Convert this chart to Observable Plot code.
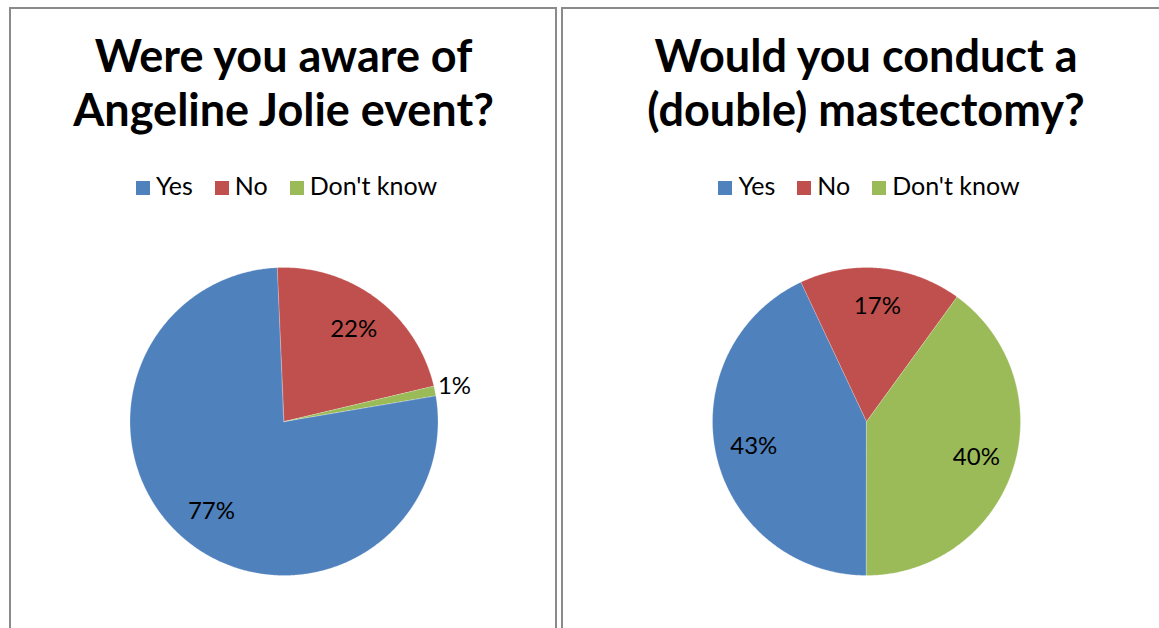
<!DOCTYPE html>
<html>
<head>
<meta charset="utf-8">
<script src="https://cdn.jsdelivr.net/npm/d3@7"></script>
<script src="https://cdn.jsdelivr.net/npm/@observablehq/plot@0.6"></script>
<style>
  html, body { margin: 0; padding: 0; background: #fff; }
  body { width: 1159px; height: 628px; overflow: hidden; position: relative; font-family: Lato, "Open Sans", sans-serif; color: #000; }
  .panel { position: absolute; top: 7px; height: 640px; border: 2px solid #8a8a8a; border-bottom: none; box-sizing: border-box; background: #fff; overflow: hidden; }
  .title { position: absolute; top: 19px; text-align: center; font-weight: 700; font-size: 45px; line-height: 54px; }
  .legend { position: absolute; top: 161px; display: flex; justify-content: center; font-size: 25px; line-height: 30px; white-space: nowrap; }
  .item { margin: 0 11px; }
  .sw { display: inline-block; width: 14px; height: 14px; margin-right: 6px; vertical-align: baseline; }
  .pie { position: absolute; left: 0; top: 240px; }
</style>
</head>
<body>
<script>
// ---- data ----
const categories = ["Yes", "No", "Don't know"];
const colors = ["#4F81BD", "#C0504D", "#9BBB59"];
const awareValues = [77, 22, 1];
const mastectomyValues = [43, 17, 40];
const awareTitle = ["Were you aware of", "Angeline Jolie event?"];
const mastectomyTitle = ["Would you conduct a", "(double) mastectomy?"];

// ---- layout / style ----
const R = 154;            // pie radius in px
const SVG_H = 360;
const CY = 172;           // pie centre within svg

const panels = [
  {left: 9, width: 548, centre: 283.5, title: awareTitle, values: awareValues, start: 80.3},
  {left: 561, width: 620, centre: 866, title: mastectomyTitle, values: mastectomyValues, start: 180}
];

function drawPanel(p) {
  const panel = document.createElement("div");
  panel.className = "panel";
  panel.style.left = p.left + "px";
  panel.style.width = p.width + "px";
  document.body.appendChild(panel);

  const W = p.width - 4;
  const cx = p.centre - (p.left + 2);

  const title = document.createElement("div");
  title.className = "title";
  title.style.left = "0px";
  title.style.width = (2 * cx) + "px";
  title.innerHTML = p.title.map(t => `<div>${t}</div>`).join("");
  panel.appendChild(title);

  const legend = document.createElement("div");
  legend.className = "legend";
  legend.style.left = "0px";
  legend.style.width = (2 * cx + 6) + "px";
  categories.forEach((c, i) => {
    const it = document.createElement("span");
    it.className = "item";
    it.innerHTML = `<span class="sw" style="background:${colors[i]}"></span>${c}`;
    legend.appendChild(it);
  });
  panel.appendChild(legend);

  // pie slices as polygons built from the data
  const rows = categories.map((c, i) => ({cat: c, value: p.values[i]}));
  const a0 = p.start * Math.PI / 180;
  const arcs = d3.pie().sort(null).value(d => d.value).startAngle(a0).endAngle(a0 + 2 * Math.PI)(rows);
  const pts = [];
  const labels = [];
  const total = d3.sum(p.values);
  arcs.forEach(a => {
    pts.push({cat: a.data.cat, x: 0, y: 0});
    const n = Math.max(2, Math.ceil((a.endAngle - a.startAngle) / (Math.PI / 360)));
    for (let k = 0; k <= n; k++) {
      const t = a.startAngle + (a.endAngle - a.startAngle) * k / n;
      pts.push({cat: a.data.cat, x: Math.sin(t), y: Math.cos(t)});
    }
    const mid = (a.startAngle + a.endAngle) / 2;
    const share = a.data.value / total;
    const rr = share < 0.05 ? 1.13 : 0.75;
    labels.push({x: rr * Math.sin(mid), y: rr * Math.cos(mid), text: Math.round(share * 100) + "%"});
  });

  const chart = Plot.plot({
    width: W,
    height: SVG_H,
    margin: 0,
    x: {type: "linear", domain: [-cx / R, (W - cx) / R], axis: null},
    y: {type: "linear", domain: [-(SVG_H - CY) / R, CY / R], axis: null},
    color: {domain: categories, range: colors},
    style: {background: "transparent", overflow: "visible"},
    marks: [
      Plot.line(pts, {x: "x", y: "y", z: "cat", fill: "cat", stroke: "white", strokeWidth: 0.4, strokeOpacity: 0.6, curve: "linear-closed"}),
      Plot.text(labels, {x: "x", y: "y", text: "text", fontSize: 24, fill: "#000", fontFamily: "Lato, 'Open Sans', sans-serif"})
    ]
  });
  chart.classList.add("pie");
  panel.appendChild(chart);
}

panels.forEach(drawPanel);
</script>
</body>
</html>
